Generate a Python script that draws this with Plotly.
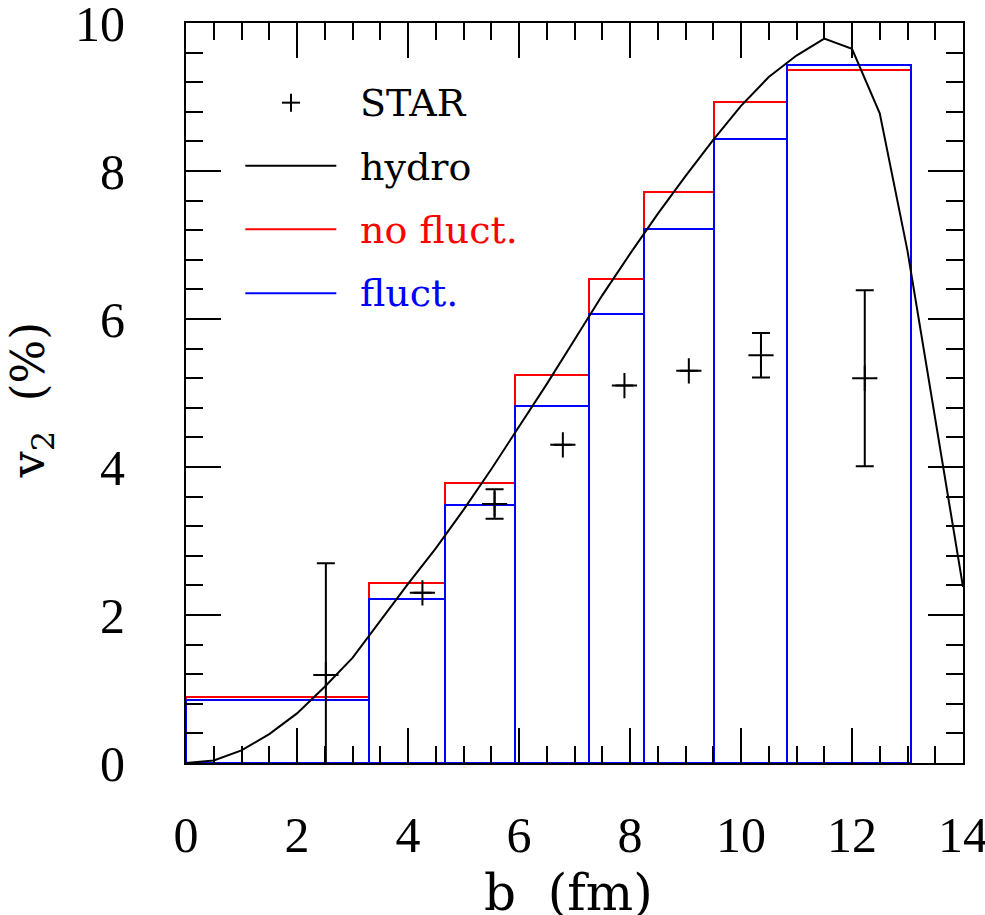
import numpy as np
import plotly.graph_objects as go

# ---------------- data ----------------
bin_edges = [0.0, 3.29, 4.67, 5.93, 7.27, 8.26, 9.51, 10.82, 13.06]
v2_nofluct = [0.89, 2.43, 3.79, 5.24, 6.54, 7.71, 8.93, 9.37]
v2_fluct = [0.85, 2.22, 3.49, 4.83, 6.07, 7.22, 8.43, 9.43]

hydro_b = [0.0, 0.5, 1.0, 1.5, 2.0, 2.5, 3.0, 3.5, 4.0, 4.5, 5.0, 5.5, 6.0, 6.5,
           7.0, 7.5, 8.0, 8.5, 9.0, 9.5, 10.0, 10.5, 11.0, 11.5, 12.0, 12.5,
           13.0, 13.5, 14.0]
hydro_v2 = [0.0, 0.035, 0.17, 0.39, 0.67, 1.03, 1.42, 1.92, 2.42, 2.90, 3.42,
            3.97, 4.55, 5.12, 5.72, 6.32, 6.88, 7.42, 7.93, 8.42, 8.88, 9.27,
            9.56, 9.79, 9.65, 8.78, 6.92, 4.65, 2.38]

star_b = [2.52, 4.26, 5.56, 6.79, 7.90, 9.06, 10.36, 12.23]
star_v2 = [1.19, 2.30, 3.50, 4.30, 5.10, 5.30, 5.51, 5.20]
star_err = [1.51, 0.0, 0.20, 0.0, 0.0, 0.0, 0.30, 1.19]

x_ticks = [0, 2, 4, 6, 8, 10, 12, 14]
y_ticks = [0, 2, 4, 6, 8, 10]

legend_labels = ["STAR", "hydro", "no fluct.", "fluct."]
legend_colors = ["black", "black", "red", "blue"]

FONT = "Liberation Serif"
TFONT = "DejaVu Serif"

edges = np.array(bin_edges)
centers = 0.5 * (edges[1:] + edges[:-1])
widths = edges[1:] - edges[:-1]

fig = go.Figure()

fig.add_trace(go.Bar(
    x=centers, y=v2_nofluct, width=widths, base=0,
    marker=dict(color="rgba(0,0,0,0)", line=dict(color="red", width=2)),
    showlegend=False, name="no fluct."))
fig.add_trace(go.Bar(
    x=centers, y=v2_fluct, width=widths, base=0,
    marker=dict(color="rgba(0,0,0,0)", line=dict(color="blue", width=2)),
    showlegend=False, name="fluct."))

fig.add_trace(go.Scatter(
    x=hydro_b, y=hydro_v2, mode="lines",
    line=dict(color="black", width=2), showlegend=False, name="hydro"))

fig.add_trace(go.Scatter(
    x=star_b, y=star_v2, mode="markers",
    marker=dict(symbol="cross-thin", size=18, color="black",
                line=dict(color="black", width=2)),
    error_y=dict(type="data", array=star_err, visible=True,
                 color="black", thickness=2, width=9),
    showlegend=False, name="STAR"))

# ---------------- hand-made legend (paper coordinates) ----------------
X0, X1, Y0, Y1 = 185.7, 962.7, 763.3, 23.0


def px(xp):
    return (xp - X0) / (X1 - X0)


def py(yp):
    return (Y0 - yp) / (Y0 - Y1)


leg_text_y = [103, 167, 230, 293]
leg_line_y = [None, 165.7, 229.3, 293.3]
for lab, col, ty, ly in zip(legend_labels, legend_colors, leg_text_y, leg_line_y):
    fig.add_annotation(x=px(358), y=py(ty), xref="paper", yref="paper",
                       text=lab, showarrow=False, xanchor="left",
                       yanchor="middle",
                       font=dict(family=TFONT, size=38, color=col))
    if ly is not None:
        fig.add_shape(type="line", xref="paper", yref="paper",
                      x0=px(245), x1=px(336), y0=py(ly), y1=py(ly),
                      line=dict(color=col, width=2))
# STAR cross in legend
cx, cy = 290.7, 102.7
fig.add_shape(type="line", xref="paper", yref="paper",
              x0=px(cx - 9), x1=px(cx + 9), y0=py(cy), y1=py(cy),
              line=dict(color="black", width=2))
fig.add_shape(type="line", xref="paper", yref="paper",
              x0=px(cx), x1=px(cx), y0=py(cy - 9), y1=py(cy + 9),
              line=dict(color="black", width=2))

# axis titles
fig.add_annotation(x=px(568), y=py(893), xref="paper", yref="paper",
                   text="b\u00a0\u00a0(fm)", showarrow=False,
                   xanchor="center", yanchor="middle",
                   font=dict(family=TFONT, size=50, color="black"))
fig.add_annotation(x=px(32), y=py(400), xref="paper", yref="paper",
                   text="v<sub>2</sub>\u00a0\u00a0(%)", showarrow=False,
                   textangle=-90, xanchor="center", yanchor="middle",
                   font=dict(family=TFONT, size=46, color="black"))

axis_common = dict(showline=True, linecolor="black", linewidth=2,
                   mirror="ticks", ticks="inside", tickwidth=2, ticklen=35,
                   tickcolor="black", showgrid=False, zeroline=False,
                   ticklabeloverflow="allow",
                   tickfont=dict(family=FONT, size=50, color="black"))

fig.update_xaxes(range=[0, 14], tickmode="array", tickvals=x_ticks,
                 ticktext=[str(t) for t in x_ticks], ticklabelstandoff=27,
                 minor=dict(dtick=0.5, ticks="inside", ticklen=17,
                            tickwidth=2, tickcolor="black", showgrid=False),
                 **axis_common)
fig.update_yaxes(range=[0, 10], tickmode="array", tickvals=y_ticks,
                 ticktext=[str(t) for t in y_ticks], ticklabelstandoff=49,
                 minor=dict(dtick=0.4, ticks="inside", ticklen=17,
                            tickwidth=2, tickcolor="black", showgrid=False),
                 **axis_common)

fig.update_layout(
    width=985, height=915,
    margin=dict(l=186, r=22, t=23, b=152, autoexpand=False),
    paper_bgcolor="white", plot_bgcolor="white",
    barmode="overlay", bargap=0, showlegend=False,
)

fig.write_html("out.html")
